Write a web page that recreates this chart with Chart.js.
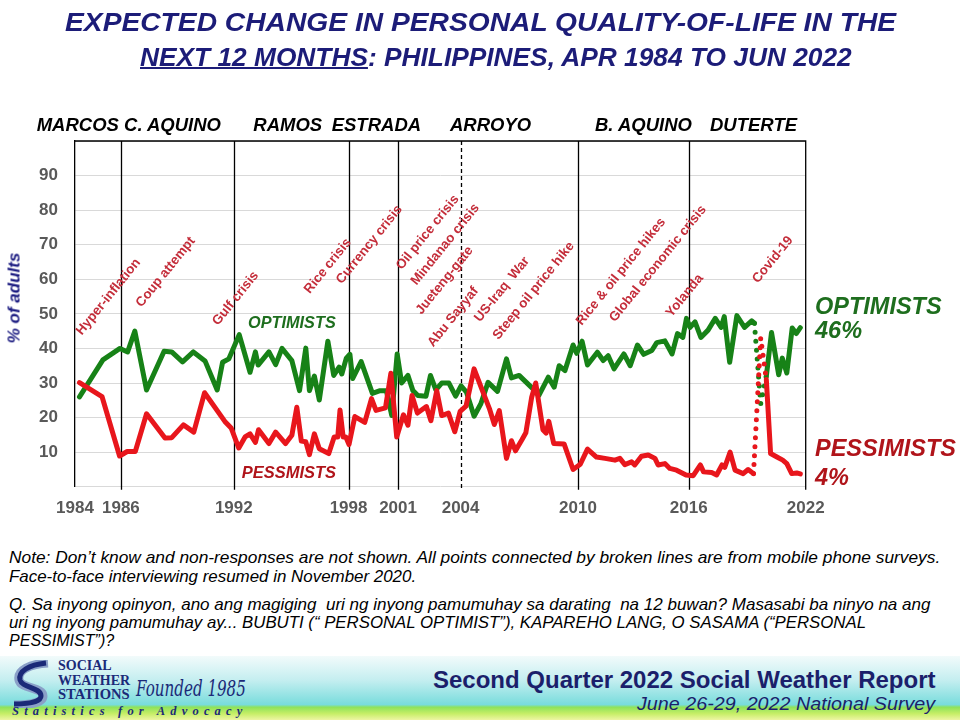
<!DOCTYPE html>
<html>
<head>
<meta charset="utf-8">
<script src="https://cdn.jsdelivr.net/npm/chart.js@4.4.1/dist/chart.umd.min.js"></script>
<style>
body{margin:0;background:#fff;}
#page{position:relative;width:960px;height:720px;overflow:hidden;font-family:"Liberation Sans",Arial,sans-serif;}
#chartBox{position:absolute;left:0;top:0;width:960px;height:540px;}
.t{position:absolute;white-space:nowrap;line-height:1;transform-origin:left center;}
.title{font-family:"Liberation Sans Narrow","Liberation Sans",Arial,sans-serif;font-weight:bold;font-style:italic;font-size:26px;color:#1c1c78;}
.pres{font-weight:bold;font-style:italic;font-size:18.5px;color:#000;}
.note{font-family:"Liberation Sans Narrow","Liberation Sans",Arial,sans-serif;font-style:italic;font-size:16.5px;color:#000;}
.opt{color:#1e6e1e;font-weight:bold;font-style:italic;}
.pes{color:#b0141a;font-weight:bold;font-style:italic;}
#footer{position:absolute;left:0;top:656px;width:960px;height:64px;
  background:linear-gradient(to bottom,#f2fbfb 0%,#c4eef0 38%,#78dcdc 76%,#8ee25a 80%,#c6ee66 90%,#eef5a4 100%);}
.logo{font-family:"Liberation Serif","DejaVu Serif",serif;font-weight:bold;color:#1b2a78;}
</style>
</head>
<body>
<div id="page">
  <div id="footer"></div>
  <div id="chartBox"><canvas id="chart"></canvas></div>

  <div class="t title" id="t1" style="left:65px;top:8.5px;">EXPECTED CHANGE IN PERSONAL QUALITY-OF-LIFE IN THE</div>
  <div class="t title" id="t2" style="left:140px;top:44px;"><span style="text-decoration:underline;text-decoration-thickness:2px;">NEXT 12 MONTHS</span>: PHILIPPINES, APR 1984 TO JUN 2022</div>

  <div class="t pres" style="left:36.7px;top:115.75px;">MARCOS C. AQUINO</div>
  <div class="t pres" style="left:253.3px;top:115.75px;">RAMOS</div>
  <div class="t pres" style="left:331.7px;top:115.75px;">ESTRADA</div>
  <div class="t pres" style="left:450px;top:115.75px;">ARROYO</div>
  <div class="t pres" style="left:595px;top:115.75px;">B. AQUINO</div>
  <div class="t pres" style="left:710px;top:115.75px;">DUTERTE</div>

  <div class="t" style="left:14px;top:298px;transform:translate(-50%,-50%) rotate(-90deg);transform-origin:center;font-weight:bold;font-style:italic;font-size:17px;color:#1a1a80;">% of adults</div>

  <div class="t opt" style="left:248px;top:314.4px;font-size:16.3px;">OPTIMISTS</div>
  <div class="t pes" style="left:241.7px;top:464.3px;font-size:16.5px;">PESSMISTS</div>

  <div class="t opt" style="left:815px;top:294.8px;font-size:23.5px;">OPTIMISTS</div>
  <div class="t opt" style="left:815px;top:319.3px;font-size:23.5px;">46%</div>
  <div class="t pes" style="left:815px;top:436.8px;font-size:23.5px;">PESSIMISTS</div>
  <div class="t pes" style="left:815px;top:465.8px;font-size:23.5px;">4%</div>

  <div class="t note" id="n1" style="left:9px;top:548.75px;">Note: Don’t know and non-responses are not shown. All points connected by broken lines are from mobile phone surveys.</div>
  <div class="t note" id="n2" style="left:9px;top:567.75px;">Face-to-face interviewing resumed in November 2020.</div>
  <div class="t note" id="q1" style="left:9px;top:595.75px;">Q. Sa inyong opinyon, ano ang magiging&nbsp; uri ng inyong pamumuhay sa darating&nbsp; na 12 buwan? Masasabi ba ninyo na ang</div>
  <div class="t note" id="q2" style="left:9px;top:613.75px;">uri ng inyong pamumuhay ay... BUBUTI (“ PERSONAL OPTIMIST”), KAPAREHO LANG, O SASAMA (“PERSONAL</div>
  <div class="t note" id="q3" style="left:9px;top:631.75px;">PESSIMIST”)?</div>

  <svg style="position:absolute;left:8px;top:660px;" width="48" height="48">
    <path d="M40 3 C22 4 9 10 11 20 C13 29 35 27 35 36 C35 42 24 45 6 45" stroke="#8aa0c8" stroke-width="9" fill="none"/>
    <path d="M38 3 C21 5 10 11 12 20 C14 28 33 27 33 36 C33 41 23 44 6 44" stroke="#1b2a78" stroke-width="5" fill="none"/>
  </svg>
  <div class="t logo" id="lo1" style="left:58px;top:659px;font-size:14px;">SOCIAL</div>
  <div class="t logo" id="lo2" style="left:58px;top:674px;font-size:14px;">WEATHER</div>
  <div class="t logo" id="lo3" style="left:58px;top:688px;font-size:14px;">STATIONS</div>
  <div class="t" id="fd" style="left:136px;top:678px;font-family:'DejaVu Serif',serif;font-style:italic;font-size:22px;color:#1b2a78;">Founded 1985</div>
  <div class="t logo" id="lg" style="left:12px;top:705px;font-size:12px;font-style:italic;letter-spacing:5px;">Statistics for Advocacy</div>

  <div class="t" id="f1" style="left:433px;top:668.5px;font-weight:bold;font-size:23px;color:#1b1f6b;">Second Quarter 2022 Social Weather Report</div>
  <div class="t" id="f2" style="left:637px;top:695px;font-family:'Liberation Sans Narrow','Liberation Sans',Arial,sans-serif;font-style:italic;font-size:18px;color:#1b1f6b;">June 26-29, 2022 National Survey</div>
</div>

<script>
// x axis = survey sequence position, year labels sit on presidency changes
const yearLabels = ['1984', '1986', '1992', '1998', '2001', '2004', '2010', '2016', '2022'];
const yearPos = [0, 10.2, 35.3, 60.8, 71.8, 85.7, 111.8, 136.4, 162.4];
const termLines = [10.2, 35.3, 60.8, 71.8, 85.7, 111.8, 136.4];
const termDashed = [false, false, false, false, true, false, false];

// mobile phone surveys (joined by broken lines)
const phoneSurveyX = [152.4];

const optX = [1.0, 6.2, 10.0, 11.7, 13.3, 15.9, 19.8, 21.5, 23.9, 26.3, 28.9, 31.6, 32.8, 34.2, 36.5, 38.9, 40.1, 40.7,
  43.1, 44.6, 46.0, 48.2, 49.9, 51.3, 52.1, 53.2, 54.3, 56.2, 57.5, 58.7, 59.3, 60.3, 61.1, 61.7, 63.6, 66.1, 67.8,
  69.2, 70.4, 71.6, 72.6, 74.0, 75.1, 76.2, 78.0, 79.0, 80.2, 81.5, 83.1, 84.6, 85.8, 87.0, 88.7, 90.2, 91.8, 93.9,
  95.9, 97.0, 98.7, 101.8, 103.1, 105.2, 106.5, 107.6, 108.9, 110.7, 111.5, 112.7, 113.9, 116.1, 117.4, 118.5, 119.8,
  122.0, 123.4, 125.0, 126.4, 128.2, 129.3, 131.1, 132.7, 133.9, 135.1, 135.9, 136.7, 137.8, 139.1, 140.7, 142.3,
  143.6, 144.3, 145.5, 147.1, 148.8, 150.4, 151.0, 152.4, 153.65, 154.8, 156.4, 157.2, 158.2, 159.4, 160.3, 161.2];
const optVals = [26, 36.7, 40, 39, 45, 28, 39.2, 39, 36.1, 39, 36.4, 28, 36, 37, 44, 33.1, 39, 35.2,
  39, 35.3, 40, 36.5, 27.8, 40.1, 27.8, 32, 25.1, 42.1, 32.2, 34.6, 32.6, 37.2, 38.3, 31.3, 36.2, 27, 27.8,
  27.8, 20.6, 38.4, 30, 32.2, 27.8, 26.4, 26.2, 32.2, 28, 30, 30, 26.2, 29.2, 27.4, 20.4, 24, 30.2, 27.6,
  37, 31.5, 32.2, 28.3, 26.4, 31.7, 28.8, 35, 33.6, 41, 38.6, 42.1, 35.2, 38.9, 36.5, 37.9, 34.1,
  38.4, 35, 41, 38.3, 39.4, 41.7, 42.2, 38.4, 44.3, 43.2, 48.7, 46.1, 47.7, 43.2, 45.3, 48.7,
  46.1, 49.2, 36, 49.5, 46.1, 48, 47.3, 24, 32, 44.6, 32.4, 37.2, 32.9, 45.9, 44.3, 46];

const pesX = [1.0, 6.0, 9.9, 11.6, 13.4, 15.9, 20.0, 21.5, 24.1, 26.4, 28.8, 33.3, 34.7, 36.4, 37.8, 38.9, 40.1, 40.8,
  43.1, 44.6, 46.8, 48.2, 49.3, 50.3, 51.3, 52.1, 53.2, 54.3, 56.4, 57.6, 58.4, 58.9, 59.6, 60.2, 60.9, 62.2, 64.4,
  65.9, 66.9, 69.0, 70.2, 71.5, 73.0, 74.0, 74.9, 76.1, 78.1, 79.1, 80.4, 81.5, 83.0, 84.4, 85.6, 86.9, 88.7, 90.4,
  92.1, 93.2, 94.3, 95.9, 97.0, 97.9, 99.3, 100.2, 101.5, 102.4, 104.0, 104.7, 105.3, 106.4, 108.7, 110.7, 112.3,
  113.9, 115.9, 117.8, 120.0, 121.1, 122.2, 123.7, 124.4, 125.9, 127.4, 128.9, 129.6, 131.1, 132.2, 133.7, 135.8,
  137.4, 139.0, 139.7, 141.5, 142.6, 143.8, 144.4, 145.6, 146.7, 148.5, 149.6, 150.8, 152.4, 153.65, 154.6, 156.0,
  157.3, 158.2, 159.3, 160.4, 161.2];
const pesVals = [30.1, 26.1, 8.9, 10.2, 10.2, 21.1, 14.1, 14.2, 17.9, 15.8, 27.2, 18.9, 17, 11.2, 14.4, 15.3, 12.8, 16.5,
  12.5, 15.8, 12.5, 14.9, 23, 13.2, 13, 9.3, 15.3, 11, 9.6, 14.4, 14.4, 22.2, 14.4, 14.4, 12.2, 20.3, 18.6,
  25.5, 22.1, 22.8, 32.8, 14.4, 20.8, 17.8, 26.4, 21.3, 23.2, 19.1, 27.8, 20.6, 21.3, 15.9, 21.8, 23.3, 34.1, 28.3,
  22.6, 18, 22, 8.2, 13.3, 10.4, 13.5, 15.6, 25.9, 30, 16.5, 15.5, 18.9, 12.5, 12.4, 5, 6.5,
  10.9, 8.6, 8.2, 7.7, 8.2, 6.4, 7.2, 6.3, 8.8, 9.2, 8.2, 6.3, 6.7, 5.3, 4.8, 3.4,
  3.2, 6.3, 4.3, 4.1, 3.4, 6.3, 5.6, 10, 4.8, 3.8, 5, 3.8, 43, 31, 9.6, 8.6,
  7.7, 6.7, 3.8, 4, 3.7];

const eventLabels = ['Hyper-inflation', 'Coup attempt', 'Gulf crisis', 'Rice crisis', 'Currency crisis',
  'Oil price crisis', 'Mindanao crisis', 'Jueteng-gate', 'Abu Sayyaf', 'US-Iraq  War', 'Steep oil price hike',
  'Rice & oil price hikes', 'Global economic crisis', 'Yolanda', 'Covid-19'];
const eventX = [1.5, 14.8, 31.8, 52.2, 59.3, 72.6, 75.9, 77.0, 79.6, 90.0, 94.1, 112.6, 120.0, 132.6, 151.8];
const eventY = [43.7, 51.8, 46.5, 55.7, 58.5, 62.6, 58.1, 49.7, 40.3, 47.5, 42.4, 46.5, 47.5, 48.9, 58.7];

function toPoints(xs, ys) {
  return xs.map((x, i) => ({x: x, y: ys[i]}));
}
function isPhoneSeg(ctx) {
  return phoneSurveyX.includes(ctx.p0.parsed.x) || phoneSurveyX.includes(ctx.p1.parsed.x);
}

// presidency lines, frame and event captions
const overlay = {
  id: 'overlay',
  beforeDatasetsDraw(chart) {
    const {ctx, chartArea: a, scales: {x, y}} = chart;
    ctx.save();
    ctx.strokeStyle = '#000';
    ctx.lineWidth = 1.3;
    ctx.beginPath();
    ctx.moveTo(a.left, a.top);
    ctx.lineTo(a.right, a.top);
    ctx.lineTo(a.right, a.bottom + 3);
    ctx.stroke();
    termLines.forEach((v, i) => {
      const px = Math.round(x.getPixelForValue(v)) + 0.5;
      ctx.setLineDash(termDashed[i] ? [4, 3] : []);
      ctx.beginPath();
      ctx.moveTo(px, a.top);
      ctx.lineTo(px, a.bottom + 3);
      ctx.stroke();
    });
    ctx.setLineDash([]);
    ctx.fillStyle = '#c42d3a';
    ctx.font = 'bold 13.3px "Liberation Sans", Arial, sans-serif';
    ctx.textBaseline = 'alphabetic';
    eventLabels.forEach((t, i) => {
      ctx.save();
      ctx.translate(x.getPixelForValue(eventX[i]), y.getPixelForValue(eventY[i]));
      ctx.rotate(-51 * Math.PI / 180);
      ctx.fillText(t, 0, 0);
      ctx.restore();
    });
    ctx.restore();
  }
};

const lineStyle = {
  borderWidth: 5,
  pointRadius: 0,
  tension: 0,
  borderCapStyle: 'round',
  borderJoinStyle: 'round',
  segment: { borderDash: ctx => isPhoneSeg(ctx) ? [0, 9] : undefined }
};

new Chart(document.getElementById('chart').getContext('2d'), {
  type: 'line',
  data: {
    datasets: [
      Object.assign({ label: 'Pessimists', data: toPoints(pesX, pesVals), borderColor: '#e8161c' }, lineStyle),
      Object.assign({ label: 'Optimists', data: toPoints(optX, optVals), borderColor: '#178217' }, lineStyle)
    ]
  },
  options: {
    responsive: true,
    maintainAspectRatio: false,
    animation: false,
    layout: { padding: { top: 141, right: 154.3, left: 0, bottom: 0 } },
    plugins: { legend: { display: false }, tooltip: { enabled: false } },
    scales: {
      x: {
        type: 'linear', min: 0, max: 162.4,
        afterBuildTicks: s => { s.ticks = yearPos.map(v => ({ value: v })); },
        afterFit: s => { s.height = 53.25; },
        grid: { display: false, drawTicks: false },
        border: { display: false },
        ticks: {
          autoSkip: false, maxRotation: 0, minRotation: 0, padding: 11,
          color: '#595959', font: { family: 'Liberation Sans', weight: 'bold', size: 17 },
          callback: (v, i) => yearLabels[i]
        }
      },
      y: {
        min: 0, max: 100,
        afterFit: s => { s.width = 75; },
        grid: { color: '#d9d9d9', lineWidth: 1, drawTicks: false },
        border: { color: '#000', width: 1.3 },
        ticks: {
          stepSize: 10, padding: 17,
          color: '#595959', font: { family: 'Liberation Sans', weight: 'bold', size: 17 },
          callback: v => (v === 0 || v === 100) ? '' : v
        }
      }
    }
  },
  plugins: [overlay]
});

// squeeze the narrow-font texts to the widths in the reference
function fitWidth(id, w) {
  const el = document.getElementById(id);
  el.style.transform = 'scaleX(' + (w / el.offsetWidth) + ')';
}
[['t1', 831], ['t2', 712], ['n1', 931], ['n2', 407], ['q1', 921], ['q2', 857], ['q3', 105],
 ['f1', 502], ['f2', 298], ['lg', 236], ['lo1', 54], ['lo2', 72], ['lo3', 72], ['fd', 110]].forEach(p => fitWidth(p[0], p[1]));
</script>
</body>
</html>
